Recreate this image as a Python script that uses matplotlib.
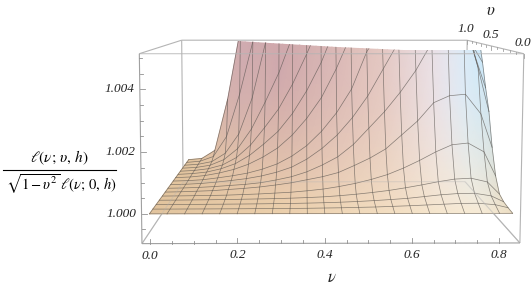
import numpy as np
import matplotlib
matplotlib.use('Agg')
import matplotlib.pyplot as plt
from matplotlib.patches import Polygon

plt.rcParams['mathtext.fontset'] = 'stix'
plt.rcParams['font.family'] = ['Liberation Serif', 'DejaVu Serif']

# nu values of the mesh columns, upsilon values of the mesh rows
nu_values = [0, .04, .08, .12, .16, .2, .24, .28, .32, .36, .4, .44, .48, .52, .56, .6, .64, .68, .72, .76, .8, .83]
v_values = [k / 15 for k in range(16)]

# height of the surface above 1, in units of 0.001 (rows follow v_values)
excess = [
    [0] * 22,
    [0, 0, .002, .003, .005, .007, .01, .013, .016, .02, .028, .035, .048, .06, .08, .1, .125, .15, .175, .18, .13, .03],
    [0, .002, .004, .007, .01, .014, .019, .025, .032, .042, .055, .072, .095, .125, .16, .2, .26, .32, .36, .37, .28, .08],
    [0, .003, .008, .014, .02, .03, .04, .05, .065, .085, .11, .15, .2, .26, .33, .42, .52, .63, .72, .75, .62, .2],
    [0, .005, .012, .02, .03, .05, .07, .1, .13, .18, .24, .33, .44, .58, .75, .98, 1.25, 1.55, 1.8, 1.86, 1.55, .7],
    [0, .01, .03, .05, .09, .13, .18, .25, .33, .44, .55, .7, .95, 1.22, 1.55, 2.05, 2.55, 3.2, 3.45, 3.5, 2.8, 1.6],
    [0, .01, .03, .06, .1, .14, .2, .3, .42, .6, .85, 1.15, 1.6, 2.2, 2.8, 3.5, 4.3, 5.3, 5.9, 6.2, 4.4, 2.8],
    [0, .012, .04, .09, .15, .22, .32, .46, .65, .95, 1.35, 1.85, 2.5, 3.3, 4.3, 5.3, 6.2, 7, 7.6, 8, 4.8, 3.6],
    [0, .015, .05, .12, .2, .3, .45, .65, .95, 1.35, 1.9, 2.6, 3.5, 4.9, 5.8, 6.6, 7.5, 8, 8.5, 8.7, 5.2, 4.5],
    [0, .025, .08, .18, .32, .52, .8, 1.15, 1.65, 2.3, 3.1, 4.2, 5.5, 6.5, 7.2, 8, 8.5, 9, 9.3, 9.5, 6.5, 5.3],
    [0, .03, .09, .22, .42, .75, 1.2, 1.7, 2.4, 3.3, 4.4, 5.8, 6.8, 7.6, 8.2, 8.8, 9.3, 9.7, 10, 10.2, 8, 6.5],
    [0, .03, .1, .25, .55, 1.05, 1.75, 2.5, 3.5, 4.7, 6, 7, 7.8, 8.5, 9, 9.5, 10, 10.4, 10.7, 11, 9, 8],
    [0, .03, .12, .35, .8, 1.6, 2.7, 3.9, 5.4, 6.6, 7.5, 8.3, 9, 9.5, 10, 10.5, 11, 11.3, 11.6, 12, 10, 9],
    [0, .04, .15, .5, 1.3, 2.8, 5.1, 7, 8, 8.8, 9.5, 10, 10.5, 11, 11.5, 12, 12.3, 12.6, 13, 13, 11, 10],
    [0, .05, .25, 1.1, 2.9, 5.1, 8, 9.5, 10.5, 11, 11.5, 12, 12.5, 13, 13.2, 13.5, 13.8, 14, 14, 14, 12, 11],
    [0, .05, .4, 2.6, 5.6, 9, 11, 12, 12.5, 13, 13.5, 14, 14.3, 14.6, 15, 15, 15, 15, 15, 15, 13, 12],
]

nu_ticks = [0, .05, .1, .15, .2, .25, .3, .35, .4, .45, .5, .55, .6, .65, .7, .75, .8]
nu_labels = {0: '0.0', .2: '0.2', .4: '0.4', .6: '0.6', .8: '0.8'}
z_ticks = [-.5, 0, .5, 1, 1.5, 2, 2.5, 3, 3.5, 4, 4.5, 5]
z_labels = {0: '1.000', 2: '1.002', 4: '1.004'}
v_ticks = [0, .1, .2, .3, .4, .5, .6, .7, .8, .9, 1]
v_labels = {0: '0.0', .5: '0.5', 1: '1.0'}

# box limits and where its corners land in the picture
nu_lo, nu_hi = -.018, .848
z_lo, z_hi = -.97, 5.13
corners = {
    (nu_lo, 0, z_lo): (142, 243.5), (nu_hi, 0, z_lo): (520, 242.5),
    (nu_lo, 0, z_hi): (139, 54), (nu_hi, 0, z_hi): (524, 54),
    (nu_lo, 1, z_lo): (183, 182), (nu_hi, 1, z_lo): (465, 182),
    (nu_lo, 1, z_hi): (182, 40), (nu_hi, 1, z_hi): (467, 40),
}


def fit_camera(pairs):
    rows, rhs = [], []
    for (a, b, c), (x, y) in pairs.items():
        rows.append([a, b, c, 1, 0, 0, 0, 0, -x * a, -x * b, -x * c])
        rows.append([0, 0, 0, 0, a, b, c, 1, -y * a, -y * b, -y * c])
        rhs += [x, y]
    p = np.linalg.lstsq(np.array(rows, float), np.array(rhs, float), rcond=None)[0]
    return np.append(p, 1).reshape(3, 4)


camera = fit_camera(corners)


def project(nu, v, z):
    nu, v, z = np.broadcast_arrays(np.asarray(nu, float), np.asarray(v, float), np.asarray(z, float))
    pts = np.stack([nu, v, z, np.ones_like(nu)], axis=-1)
    h = pts @ camera.T
    return h[..., 0] / h[..., 2], h[..., 1] / h[..., 2]


def box_line(ax, a, b, **kw):
    xs, ys = project([a[0], b[0]], [a[1], b[1]], [a[2], b[2]])
    return ax.plot(xs, ys, color=kw.pop('color', '#b4b4b4'), lw=kw.pop('lw', .8), solid_capstyle='butt', **kw)


def surface_colours(nu_grid, e_grid):
    shade_nu = [0, .3, .55, .7, .77, .83]
    high = np.array([[208, 172, 182], [207, 168, 172], [228, 198, 192], [234, 228, 236], [216, 236, 250], [205, 232, 248]], float)
    low = np.array([[226, 196, 158], [236, 208, 172], [243, 223, 194], [247, 233, 210], [247, 235, 214], [238, 222, 195]], float)
    mix = np.clip(e_grid / 4.0, 0, 1) ** .55
    rgb = np.zeros(nu_grid.shape + (3,))
    for i in range(3):
        rgb[..., i] = np.interp(nu_grid, shade_nu, low[:, i]) * (1 - mix) + np.interp(nu_grid, shade_nu, high[:, i]) * mix
    return rgb / 255


def main():
    fig = plt.figure(figsize=(5.31, 2.91), dpi=100)
    ax = fig.add_axes([0, 0, 1, 1])
    ax.set_xlim(0, 531)
    ax.set_ylim(291, 0)
    ax.axis('off')

    # box edges behind the surface
    box_line(ax, (nu_lo, 1, z_lo), (nu_lo, 1, z_hi))
    box_line(ax, (nu_lo, 1, z_hi), (nu_hi, 1, z_hi))
    box_line(ax, (nu_hi, 1, z_lo), (nu_hi, 1, z_hi))
    box_line(ax, (nu_lo, 0, z_hi), (nu_lo, 1, z_hi))
    box_line(ax, (nu_hi, 0, z_hi), (nu_hi, 1, z_hi))
    box_line(ax, (nu_lo, 0, z_lo), (nu_lo, 1, z_lo))
    box_line(ax, (nu_hi, 0, z_lo), (nu_hi, 1, z_lo))

    nu_grid, v_grid = np.meshgrid(nu_values, v_values)
    e_grid = np.array(excess, float)
    sx, sy = project(nu_grid, v_grid, e_grid)

    # the surface is cut off along this edge at the top of the box
    cut = Polygon([(0, 41), (239, 41), (270, 42.5), (337, 47), (403, 49.5), (478, 50), (531, 50),
                   (531, 291), (0, 291)], transform=ax.transData, fill=False, ec='none')
    ax.add_patch(cut)

    mesh = ax.pcolormesh(sx, sy, surface_colours(nu_grid, e_grid), shading='gouraud', zorder=2)
    mesh.set_clip_path(cut)

    for i in range(len(v_values)):
        line, = ax.plot(sx[i], sy[i], color='#5a5550', lw=.5, alpha=.7, zorder=3)
        line.set_clip_path(cut)
    for j in range(len(nu_values)):
        line, = ax.plot(sx[:, j], sy[:, j], color='#5a5550', lw=.5, alpha=.7, zorder=3)
        line.set_clip_path(cut)

    # box edges that show through or stand in front
    box_line(ax, (nu_lo, 1, z_lo), (nu_hi, 1, z_lo), alpha=.35, zorder=4)
    box_line(ax, (nu_lo, 0, z_lo), (nu_lo, 1, z_lo), alpha=.3, zorder=4)
    box_line(ax, (nu_hi, 0, z_lo), (nu_hi, 1, z_lo), alpha=.5, zorder=4)
    box_line(ax, (nu_lo, 0, z_hi), (nu_hi, 0, z_hi), alpha=.75, zorder=4)
    box_line(ax, (nu_lo, 0, z_lo), (nu_lo, 0, z_hi), color='#a0a0a0', zorder=4)
    box_line(ax, (nu_hi, 0, z_lo), (nu_hi, 0, z_hi), zorder=4)
    box_line(ax, (nu_lo, 0, z_lo), (nu_hi, 0, z_lo), color='#a0a0a0', zorder=4)

    # ticks
    for t in nu_ticks:
        major = t in nu_labels
        x0, y0 = project(t, 0, z_lo)
        ax.plot([x0, x0], [y0, y0 - (5 if major else 3)], color='#909090', lw=.6, zorder=4)
        if major:
            ax.text(x0, y0 + 12, nu_labels[t], style='italic', fontsize=9.5, color='#222222', ha='center', va='center')
    for t in z_ticks:
        major = t in z_labels
        x0, y0 = project(nu_lo, 0, t)
        ax.plot([x0, x0 + (5 if major else 3)], [y0, y0], color='#909090', lw=.6, zorder=4)
        if major:
            ax.text(x0 - 5, y0, z_labels[t], style='italic', fontsize=9.5, color='#222222', ha='right', va='center')
    for t in v_ticks:
        major = t in v_labels
        x0, y0 = project(nu_hi, t, z_hi)
        ax.plot([x0, x0], [y0, y0 + (4 if major else 2)], color='#a0a0a0', lw=.6, zorder=4)
        if major:
            ax.text(x0 - 1, y0 - 11, v_labels[t], style='italic', fontsize=9.5, color='#222222', ha='center', va='center')

    ax.text(491, 11, r'$\upsilon$', fontsize=12, ha='center', va='center', color='#222222')
    ax.text(332, 278, r'$\nu$', fontsize=12, ha='center', va='center', color='#222222')

    # z axis label written as a fraction
    ax.text(59, 158, r'$\ell(\nu;\,\upsilon,\,h)$', fontsize=11, ha='center', va='center')
    ax.plot([3, 116], [169.5, 169.5], color='black', lw=.8)
    ax.text(61, 184, r'$\sqrt{1-\upsilon^2}\,\ell(\nu;\,0,\,h)$', fontsize=10.5, ha='center', va='center')

    fig.savefig('out.png', dpi=100)


if __name__ == "__main__":
    main()
